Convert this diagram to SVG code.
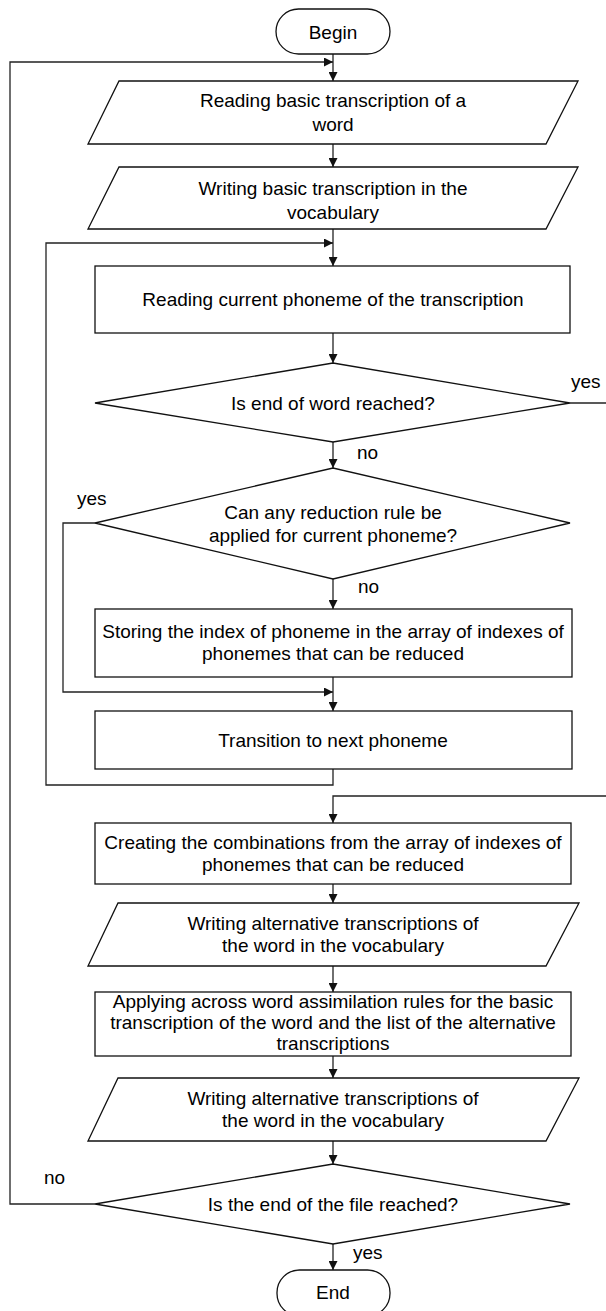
<svg xmlns="http://www.w3.org/2000/svg" width="606" height="1311" viewBox="0 0 606 1311">
<style>
.s{fill:#fff;stroke:#111;stroke-width:1.3}
.c{fill:none;stroke:#222;stroke-width:1.3}
text{font-family:"Liberation Sans",Arial,sans-serif;font-size:19px;fill:#000;text-anchor:middle}
.l{text-anchor:start}
</style>
<defs>
<marker id="a" viewBox="0 0 10 10" refX="10" refY="5" markerWidth="9" markerHeight="9" markerUnits="userSpaceOnUse" orient="auto">
<path d="M0,0 L10,5 L0,10 z" fill="#111"/>
</marker>
</defs>
<rect width="606" height="1311" fill="#fff"/>
<g id="connectors">
<path class="c" d="M333,54 V81" marker-end="url(#a)"/>
<path class="c" d="M95,1204 H10 V62 H333" marker-end="url(#a)"/>
<path class="c" d="M333,144 V167" marker-end="url(#a)"/>
<path class="c" d="M333,229 V266" marker-end="url(#a)"/>
<path class="c" d="M333,769 V785 H46 V243 H333" marker-end="url(#a)"/>
<path class="c" d="M333,333 V363" marker-end="url(#a)"/>
<path class="c" d="M570,403 H620"/>
<path class="c" d="M333,442 V468" marker-end="url(#a)"/>
<path class="c" d="M333,579 V609" marker-end="url(#a)"/>
<path class="c" d="M95,523 H63 V692 H333" marker-end="url(#a)"/>
<path class="c" d="M333,677 V711" marker-end="url(#a)"/>
<path class="c" d="M620,796 H333 V823" marker-end="url(#a)"/>
<path class="c" d="M333,884 V903" marker-end="url(#a)"/>
<path class="c" d="M333,966 V992" marker-end="url(#a)"/>
<path class="c" d="M333,1056 V1078" marker-end="url(#a)"/>
<path class="c" d="M333,1141 V1164" marker-end="url(#a)"/>
<path class="c" d="M333,1244 V1270" marker-end="url(#a)"/>
<text class="l" x="571" y="388">yes</text>
<text class="l" x="357" y="459">no</text>
<text class="l" x="77" y="505">yes</text>
<text class="l" x="358" y="593">no</text>
<text class="l" x="44" y="1184">no</text>
<text class="l" x="353" y="1259">yes</text>
</g>
<g id="begin">
<rect class="s" x="276" y="9" width="114" height="45" rx="22.5"/>
<text x="333" y="38.5">Begin</text>
</g>
<g id="read-basic">
<polygon class="s" points="119,81 578,81 546,144 88,144"/>
<text x="333" y="106.5">Reading basic transcription of a</text>
<text x="333" y="130.5">word</text>
</g>
<g id="write-basic">
<polygon class="s" points="119,167 578,167 546,229 88,229"/>
<text x="333" y="194.5">Writing basic transcription in the</text>
<text x="333" y="218.5">vocabulary</text>
</g>
<g id="read-phoneme">
<rect class="s" x="95" y="266" width="475" height="67"/>
<text x="333" y="305.5">Reading current phoneme of the transcription</text>
</g>
<g id="end-of-word">
<polygon class="s" points="95,403 333,363 570,403 333,442"/>
<text x="333" y="409.5">Is end of word reached?</text>
</g>
<g id="reduction-rule">
<polygon class="s" points="95,523 333,468 570,523 333,579"/>
<text x="333" y="518.5">Can any reduction rule be</text>
<text x="333" y="541.5">applied for current phoneme?</text>
</g>
<g id="store-index">
<rect class="s" x="95" y="609" width="477" height="68"/>
<text x="333" y="637.5">Storing the index of phoneme in the array of indexes of</text>
<text x="333" y="659.5">phonemes that can be reduced</text>
</g>
<g id="next-phoneme">
<rect class="s" x="95" y="711" width="477" height="58"/>
<text x="333" y="746.5">Transition to next phoneme</text>
</g>
<g id="combinations">
<rect class="s" x="95" y="823" width="476" height="61"/>
<text x="333" y="848.5">Creating the combinations from the array of indexes of</text>
<text x="333" y="870.5">phonemes that can be reduced</text>
</g>
<g id="write-alt-1">
<polygon class="s" points="118,903 579,903 546,966 88,966"/>
<text x="333" y="929.5">Writing alternative transcriptions of</text>
<text x="333" y="951.5">the word in the vocabulary</text>
</g>
<g id="assimilation">
<rect class="s" x="95" y="992" width="476" height="64"/>
<text x="333" y="1007.5">Applying across word assimilation rules for the basic</text>
<text x="333" y="1028.5">transcription of the word and the list of the alternative</text>
<text x="333" y="1049.5">transcriptions</text>
</g>
<g id="write-alt-2">
<polygon class="s" points="118,1078 579,1078 546,1141 88,1141"/>
<text x="333" y="1104.5">Writing alternative transcriptions of</text>
<text x="333" y="1126.5">the word in the vocabulary</text>
</g>
<g id="end-of-file">
<polygon class="s" points="95,1204 333,1164 570,1204 333,1244"/>
<text x="333" y="1210.5">Is the end of the file reached?</text>
</g>
<g id="end">
<rect class="s" x="277" y="1270" width="113" height="46" rx="22.5"/>
<text x="333" y="1298.5">End</text>
</g>
</svg>
